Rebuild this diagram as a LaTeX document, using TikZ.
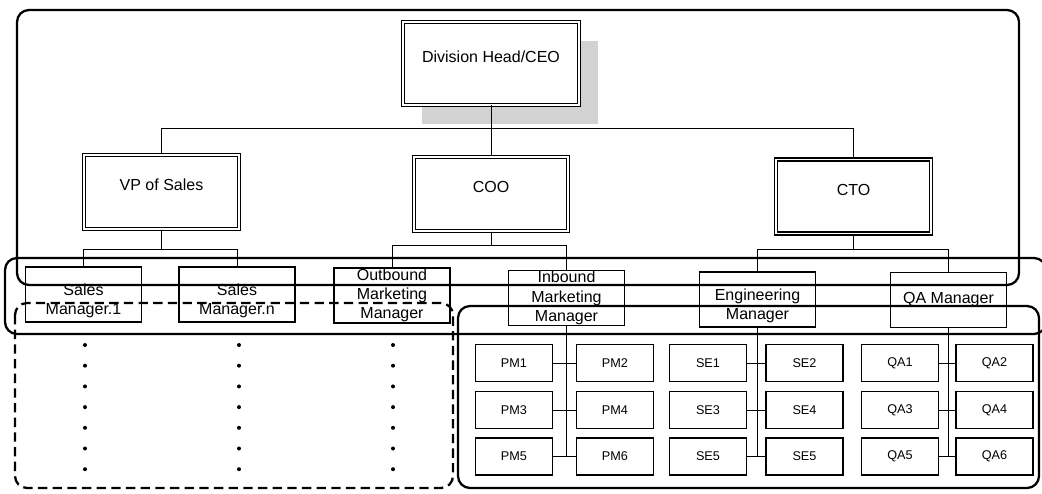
\documentclass[tikz,border=0pt]{standalone}
\usepackage{fontspec}
\setmainfont{Liberation Sans}
\usetikzlibrary{shadows}
\tikzset{
  head/.style  = {rectangle, draw, double, line width=0.9pt, double distance=1.3pt, fill=white,
                  minimum width=116pt, minimum height=55.5pt, text height=9pt, text depth=11pt,
                  font=\fontsize{12}{14}\selectfont},
  mgr/.style   = {rectangle, draw, line width=0.8pt, fill=white, align=center, inner sep=0.5pt,
                  minimum width=87pt, minimum height=41.25pt, font=\fontsize{12}{14.5}\selectfont},
  staff/.style = {rectangle, draw, line width=0.8pt, fill=white, minimum width=57.75pt,
                  minimum height=27.75pt, font=\fontsize{9.5}{11}\selectfont},
  link/.style  = {line width=0.5pt},
  grp/.style   = {line width=1.7pt, rounded corners=9pt}
}

\begin{document}
\begin{tikzpicture}[x=0.75pt, y=-0.75pt]
  \useasboundingbox (0,0) rectangle (1042,493);
  % top level
  \node[head, minimum width=132pt, minimum height=62pt,
        general shadow={fill=gray!35, shadow xshift=14pt, shadow yshift=-14pt}] (ceo) at (491,63.5) {Division Head/CEO};
  \node[head] (vp)  at (161.5,192) {VP of Sales};
  \node[head] (coo) at (491,194)   {COO};
  \node[head] (cto) at (853.5,196.5) {CTO};
  \draw[link] (ceo.south) -- ++(0,23) -| (vp.north);
  \draw[link] (ceo.south) -- ++(0,23) -| (cto.north);
  \draw[link] (ceo.south) -- (coo.north);

  % managers
  \node[mgr] (sm1)  at (83.5,294.5) {\mbox{}\\[4pt]Sales\\Manager.1};
  \node[mgr] (smn)  at (237,294.5)  {\mbox{}\\[4pt]Sales\\Manager.n};
  \node[mgr] (outb) at (392,295.5)  {Outbound\\Marketing\\Manager};
  \node[mgr] (inb)  at (566.5,298)  {Inbound\\Marketing\\Manager};
  \node[mgr] (eng)  at (757.5,299.5){\mbox{}\\[4pt]Engineering\\Manager};
  \node[mgr] (qa)   at (948.5,300)  {QA Manager};
  \draw[link] (vp.south) -- ++(0,20) -| (sm1.north);  \draw[link] (vp.south) -- ++(0,20) -| (smn.north);
  \draw[link] (coo.south) -- ++(0,14) -| (outb.north); \draw[link] (coo.south) -- ++(0,14) -| (inb.north);
  \draw[link] (cto.south) -- ++(0,15) -| (eng.north);  \draw[link] (cto.south) -- ++(0,15) -| (qa.north);

  % sales / outbound staff (not shown)
  \foreach \x in {85,239,393}
    \foreach \k in {0,...,6}
      \fill (\x,{345+20.7*\k}) circle (1.5pt);

  % staff
  \node[staff] (pm1) at (514,363)   {PM1}; \node[staff] (pm2) at (615,363)   {PM2};
  \node[staff] (pm3) at (514,410)   {PM3}; \node[staff] (pm4) at (615,410)   {PM4};
  \node[staff] (pm5) at (514,456.5) {PM5}; \node[staff] (pm6) at (615,456.5) {PM6};
  \node[staff] (se1) at (708,363)   {SE1}; \node[staff] (se2) at (804.5,363)   {SE2};
  \node[staff] (se3) at (708,410)   {SE3}; \node[staff] (se4) at (804.5,410)   {SE4};
  \node[staff] (se5) at (708,456.5) {SE5}; \node[staff] (se6) at (804.5,456.5) {SE5};
  \node[staff] (qa1) at (900,363)   {QA1}; \node[staff] (qa2) at (994.5,363)   {QA2};
  \node[staff] (qa3) at (900,410)   {QA3}; \node[staff] (qa4) at (994.5,410)   {QA4};
  \node[staff] (qa5) at (900,456.5) {QA5}; \node[staff] (qa6) at (994.5,456.5) {QA6};
  \draw[link] (inb.south) -- (inb.south |- pm5.east);
  \draw[link] (eng.south) -- (eng.south |- se5.east);
  \draw[link] (qa.south)  -- (qa.south |- qa5.east);
  \foreach \a/\b in {pm1/pm2,pm3/pm4,pm5/pm6,se1/se2,se3/se4,se5/se6,qa1/qa2,qa3/qa4,qa5/qa6}
    \draw[link] (\a.east) -- (\b.west);

  % groups
  \draw[grp] (17,10) rectangle (1019,285);
  \draw[grp] (5,258) rectangle (1046,334);
  \draw[grp, dashed, dash pattern=on 7pt off 4pt] (15,303) rectangle (453,488);
  \draw[grp] (458,306) rectangle (1039,488);
\end{tikzpicture}
\end{document}
